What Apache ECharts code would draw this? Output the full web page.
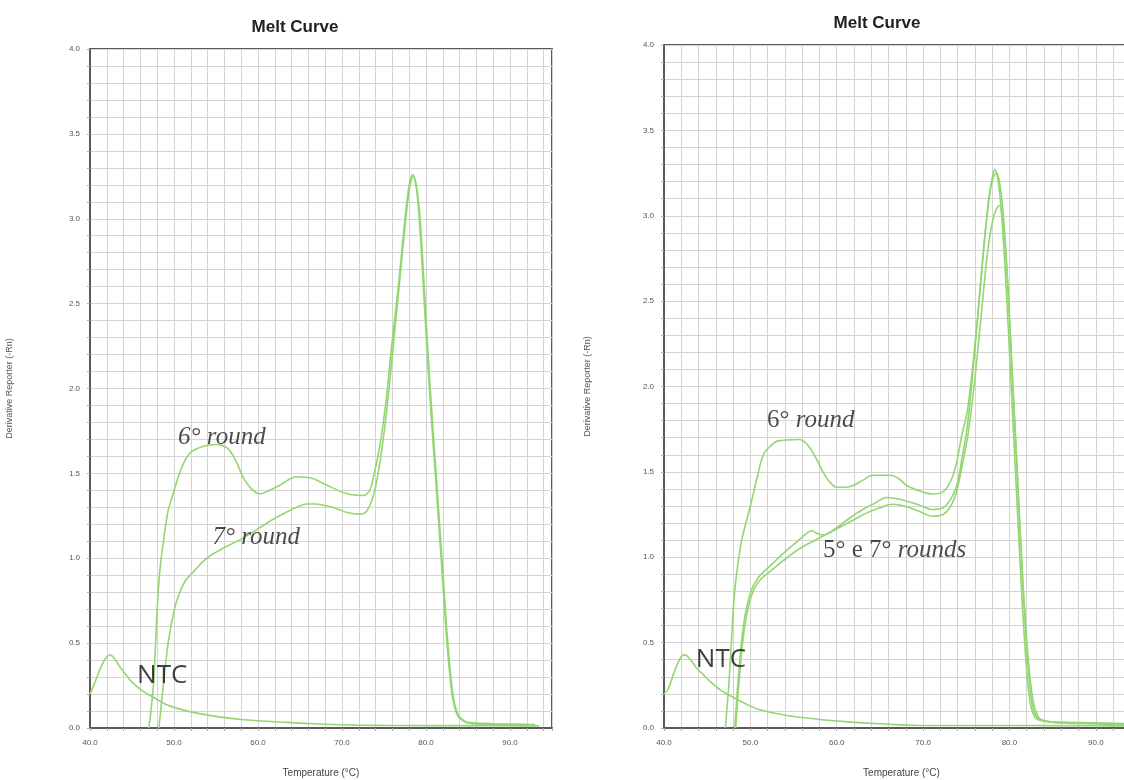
<!DOCTYPE html>
<html>
<head>
<meta charset="utf-8">
<script src="https://cdn.jsdelivr.net/npm/echarts@6/dist/echarts.min.js"></script>
<style>html,body{margin:0;padding:0;background:#fff;}#c{width:1124px;height:780px;}</style>
</head>
<body>
<div id="c"></div>
<script>
// ---------- data (Temperature °C, Derivative Reporter) ----------
const left6 = [[47.0,0],[47.3,0.12],[47.6,0.29],[48.0,0.7],[48.3,0.92],[48.8,1.12],[49.3,1.28],[49.9,1.38],[50.8,1.52],[51.9,1.62],[53.5,1.66],[55.1,1.67],[56.0,1.66],[56.7,1.63],[57.5,1.56],[58.2,1.48],[59.2,1.41],[60.2,1.38],[61.4,1.40],[62.6,1.43],[64.6,1.48],[66.5,1.47],[68.2,1.43],[70.6,1.38],[72.5,1.37],[73.3,1.40],[73.7,1.47],[74.5,1.66],[75.3,1.95],[75.8,2.2],[76.7,2.6],[77.5,3.0],[78.0,3.2],[78.4,3.26],[78.8,3.2],[79.2,3.0],[79.8,2.5],[80.4,2.0],[81.1,1.5],[81.8,1.0],[82.5,0.5],[83.1,0.2],[83.7,0.08],[84.5,0.04],[85.5,0.025],[88,0.02],[93,0.015]];
const left7 = [[48.2,0],[48.6,0.19],[49.3,0.5],[50.1,0.71],[50.7,0.8],[51.4,0.87],[52.5,0.93],[53.9,1.0],[55.9,1.06],[57.9,1.11],[59.9,1.17],[61.8,1.23],[63.3,1.27],[64.6,1.30],[65.8,1.32],[66.9,1.32],[68.0,1.31],[68.9,1.30],[70.6,1.27],[72.1,1.26],[72.8,1.27],[73.3,1.31],[73.8,1.38],[74.2,1.47],[74.8,1.66],[75.5,1.95],[76.0,2.2],[76.8,2.6],[77.6,3.0],[78.1,3.2],[78.5,3.25],[78.9,3.18],[79.3,3.0],[79.9,2.5],[80.5,2.0],[81.2,1.5],[81.9,1.0],[82.6,0.5],[83.2,0.2],[83.8,0.08],[84.6,0.04],[85.6,0.03],[88,0.025],[93,0.02]];
const leftNTC = [[40.0,0.2],[40.6,0.27],[41.3,0.36],[42.0,0.42],[42.4,0.43],[42.9,0.41],[43.7,0.35],[44.5,0.3],[45.0,0.27],[46.2,0.22],[47.6,0.18],[49.0,0.14],[50.1,0.12],[52.0,0.095],[54.8,0.07],[58,0.05],[63.3,0.033],[68,0.022],[71.8,0.017],[76,0.015],[80,0.014],[85,0.014],[90,0.013],[93.5,0.012]];

const right6 = [[47.1,0],[47.5,0.25],[47.8,0.5],[48.1,0.75],[48.4,0.9],[49.0,1.1],[50.0,1.3],[50.8,1.47],[51.5,1.6],[52.3,1.65],[53.1,1.68],[55.7,1.69],[56.4,1.67],[56.9,1.64],[57.6,1.58],[58.4,1.50],[59.2,1.44],[60.0,1.41],[61.0,1.41],[61.9,1.42],[63.0,1.45],[64.2,1.48],[66.2,1.48],[67.2,1.46],[68.1,1.42],[69.5,1.39],[71.1,1.37],[72.2,1.38],[72.8,1.41],[73.4,1.47],[73.9,1.56],[74.5,1.72],[75.1,1.85],[75.6,2.05],[76.3,2.4],[77.0,2.8],[77.6,3.1],[78.0,3.22],[78.3,3.27],[78.7,3.2],[79.1,3.0],[79.6,2.6],[80.1,2.1],[80.7,1.5],[81.3,0.9],[81.9,0.4],[82.4,0.15],[83.0,0.06],[84,0.04],[86,0.03],[90,0.025],[95,0.02]];
const right5 = [[48.2,0],[48.6,0.29],[49.2,0.6],[50.0,0.79],[50.9,0.88],[52.5,0.96],[54.2,1.04],[55.6,1.10],[56.5,1.14],[57.1,1.155],[57.7,1.14],[58.4,1.13],[59.2,1.145],[60.2,1.18],[61.5,1.23],[63.0,1.28],[64.2,1.31],[65.8,1.35],[67.3,1.34],[69.3,1.31],[71.1,1.28],[72.3,1.29],[73.2,1.34],[73.9,1.42],[74.5,1.58],[75.1,1.76],[75.7,2.05],[76.4,2.45],[77.1,2.85],[77.7,3.12],[78.1,3.22],[78.5,3.25],[78.9,3.18],[79.3,3.0],[79.8,2.6],[80.3,2.1],[80.9,1.5],[81.5,0.9],[82.1,0.4],[82.6,0.15],[83.2,0.06],[84.2,0.04],[86,0.035],[90,0.03],[95,0.025]];
const right7 = [[48.3,0],[48.7,0.28],[49.3,0.58],[50.1,0.77],[51.0,0.86],[52.6,0.93],[54.3,1.0],[56.0,1.06],[57.5,1.10],[59.0,1.14],[60.5,1.18],[62.0,1.22],[63.5,1.26],[65.0,1.29],[66.5,1.31],[67.8,1.30],[69.5,1.27],[71.1,1.24],[72.3,1.25],[73.1,1.29],[73.8,1.37],[74.5,1.53],[75.2,1.72],[75.9,2.0],[76.7,2.4],[77.5,2.8],[78.2,3.0],[78.8,3.06],[79.3,2.95],[79.8,2.6],[80.3,2.1],[80.9,1.5],[81.5,0.9],[82.1,0.45],[82.7,0.17],[83.4,0.06],[84.4,0.04],[86,0.03],[90,0.025],[95,0.02]];
const rightNTC = [[40.0,0.2],[40.5,0.23],[41.2,0.33],[41.9,0.41],[42.4,0.43],[42.9,0.41],[43.8,0.35],[44.6,0.31],[45.4,0.27],[46.6,0.22],[48.0,0.18],[49.5,0.14],[50.9,0.11],[53,0.085],[55,0.067],[58,0.05],[61.3,0.036],[65,0.025],[69.6,0.015],[75,0.015],[80,0.015],[85,0.014],[90,0.013],[95,0.012]];

// annotations: [x, y, rich text]
const leftNotes = [[55.7,1.71,'{i|6° round}'],[59.8,1.12,'{i|7° round}'],[48.6,0.31,'{s|NTC}']];
const rightNotes = [[57.0,1.80,'{n|6° }{i|round}'],[66.7,1.04,'{n|5° e 7° }{i|rounds}'],[46.6,0.40,'{s|NTC}']];

const titleText = 'Melt Curve';
const xName = 'Temperature (°C)';
const yName = 'Derivative Reporter (-Rn)';
const xMin = 40, xMax = 95, yMin = 0, yMax = 4;

// ---------- chart ----------
const green = '#93d672';
const gridColor = '#d4d4d4';
const axisColor = '#5a5a5a';

function xAxis(gi){
  return {
    type:'value', gridIndex:gi, min:xMin, max:xMax, interval:2,
    name:xName, nameLocation:'middle', nameGap:40,
    nameTextStyle:{fontFamily:'Liberation Sans', fontSize:10, color:'#444'},
    axisLine:{show:true, onZero:false, lineStyle:{color:axisColor, width:2}},
    axisTick:{show:true, length:3, lineStyle:{color:'#aaa'}},
    axisLabel:{margin:11, fontFamily:'Liberation Sans', fontSize:8, color:'#555',
      formatter:v => (Math.round(v)%10===0 && v<=90) ? v.toFixed(1) : ''},
    splitLine:{show:true, lineStyle:{color:gridColor, width:1}}
  };
}
function yAxis(gi, gap){
  return {
    type:'value', gridIndex:gi, min:yMin, max:yMax, interval:0.1,
    name:yName, nameLocation:'middle', nameGap:gap, nameRotate:90,
    nameTextStyle:{fontFamily:'Liberation Sans', fontSize:9, color:'#555'},
    axisLine:{show:true, lineStyle:{color:axisColor, width:2}},
    axisTick:{show:true, length:3, lineStyle:{color:'#aaa'}},
    axisLabel:{margin:10, fontFamily:'Liberation Sans', fontSize:8, color:'#555',
      formatter:v => (Math.round(v*10)%5===0) ? v.toFixed(1) : ''},
    splitLine:{show:true, lineStyle:{color:gridColor, width:1}}
  };
}
function curve(data, gi){
  return {type:'line', xAxisIndex:gi, yAxisIndex:gi, data:data, smooth:0.35,
    showSymbol:false, symbol:'none', silent:true, clip:true,
    lineStyle:{color:green, width:1.6}, z:3};
}
const rich = {
  i:{fontFamily:'Liberation Serif', fontStyle:'italic', fontSize:25, color:'#1e1e1e'},
  n:{fontFamily:'Liberation Serif', fontSize:25, color:'#1e1e1e'},
  s:{fontFamily:'Liberation Sans Narrow, Open Sans, sans-serif', fontSize:26, color:'#111'}
};
function notes(arr, gi){
  return {type:'scatter', xAxisIndex:gi, yAxisIndex:gi, symbolSize:0, silent:true, z:5,
    data:arr.map(a=>({value:[a[0],a[1]], label:{formatter:a[2]}})),
    label:{show:true, position:'inside', rich:rich}};
}

const chart = echarts.init(document.getElementById('c'), null, {renderer:'canvas'});
chart.setOption({
  backgroundColor:'#fff',
  animation:false,
  title:[
    {text:titleText, left:290, top:14, textAlign:'center',
     textStyle:{fontFamily:'Liberation Sans', fontWeight:'bold', fontSize:17, color:'#222'}},
    {text:titleText, left:872, top:10, textAlign:'center',
     textStyle:{fontFamily:'Liberation Sans', fontWeight:'bold', fontSize:17, color:'#222'}}
  ],
  grid:[
    {left:90, top:49, width:462, height:679, show:true, borderColor:axisColor, borderWidth:2, backgroundColor:'#fff', outerBoundsMode:'none', containLabel:false},
    {left:664, top:45, width:475, height:683, show:true, borderColor:axisColor, borderWidth:2, backgroundColor:'#fff', outerBoundsMode:'none', containLabel:false}
  ],
  xAxis:[xAxis(0), xAxis(1)],
  yAxis:[yAxis(0,76), yAxis(1,72)],
  series:[
    curve(leftNTC,0), curve(left7,0), curve(left6,0),
    curve(rightNTC,1), curve(right7,1), curve(right5,1), curve(right6,1),
    notes(leftNotes,0), notes(rightNotes,1)
  ]
});
</script>
</body>
</html>
